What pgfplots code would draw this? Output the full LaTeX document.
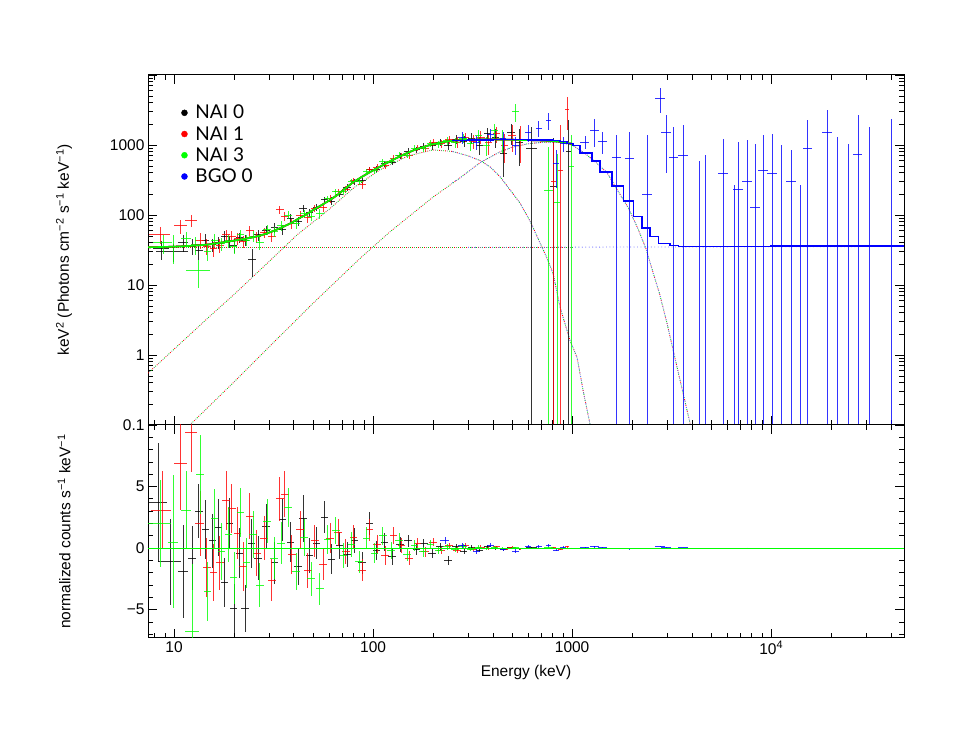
\documentclass[border=0pt]{standalone}
\usepackage{fontspec}
\setmainfont{Liberation Sans}
\newfontfamily\legfont{Lato}
\usepackage{pgfplots}
\pgfplotsset{compat=1.18}
\usepackage{pgfplotstable}

% model components (keV, keV^2 ph cm^-2 s^-1 keV^-1)
\pgfplotstableread{
E F
7.4 0.55
10 1.21
15 3.5
20 7.3
30 21.6
41.5 52
60 120
80 245
108 440
150 700
200 850
250 810
300 700
345 600
387 487
435 351
488 228
548 147
616 81
690 40
749 24
803 14.5
870 4.8
977 1.6
1059 0.92
1136 0.31
1232 0.1
1300 0.05
}\compA
\pgfplotstableread{
E F
12 0.1
20 0.41
30 1.3
50 5.5
86 24
122 58
200 180
270 330
345 560
435 800
500 930
600 1040
700 1090
850 1100
1000 1000
1160 760
1320 560
1500 400
1690 226
1920 125
2135 65
2350 33
2552 15
2750 7.5
3001 2.8
3370 0.66
3911 0.107
4100 0.05
}\compB
\pgfplotstableread{
E F
7.4 34
1000 34
}\compC
\pgfplotstableread{
E F
250 810
300 700
345 600
387 487
435 351
488 228
548 147
616 81
690 40
749 24
803 14.5
870 4.8
977 1.6
1059 0.92
1136 0.31
1232 0.1
1300 0.05
}\compAb
\pgfplotstableread{
E F
250 290
270 330
345 560
435 800
500 930
600 1040
700 1090
850 1100
1000 1000
1160 760
1320 560
1500 400
1690 226
1920 125
2135 65
2350 33
2552 15
2750 7.5
3001 2.8
3370 0.66
3911 0.107
4100 0.05
}\compBb
\pgfplotstableread{
E F
300 34.5
46500 35.5
}\compCb
\pgfplotstableread{
E F
7.4 34.6
9 35
10.5 35.5
12 36.2
13.5 37
15 38
16.5 39.5
18 41
20 43
22 45
24 47
26.5 50
29 54
32 60
35 67
38.5 76
42 88
46 101
50 118
55 138
60 160
66 192
72 235
79 290
87 345
95 400
104 460
114 530
125 610
137 690
150 780
165 870
180 940
198 1020
217 1080
238 1130
261 1160
286 1180
313 1190
343 1200
376 1200
412 1200
452 1195
495 1190
542 1180
627 1170
700 1160
806 1140
880 1110
958 1060
1000 1040
}\modnai
\pgfplotstableread{
E F
250 1160
300 1185
400 1200
500 1190
600 1180
700 1170
800 1150
870 1130
944 1044
1012 990
1097 770
1256 587
1383 414
1582 260
1810 159
2032 95
2238 65
2466 49
2715 39
3104 36.7
3420 35.5
5550 35.6
10000 35.8
20000 36
46500 36.2
}\modbgo

\tikzset{
  dotA/.style={line width=0.85pt, dash pattern=on 0.85pt off 5.15pt},
}
\pgfplotsset{
  dat/.style={only marks, mark=*, mark options={draw opacity=0, fill opacity=0}, forget plot,
    error bars/.cd, x dir=both, x explicit, y dir=both, y explicit, error mark=none,
    error bar style={line width=0.8pt, opacity=0.8}},
}

\begin{document}
\begin{tikzpicture}
\path[use as bounding box] (0pt,0pt) rectangle (971pt,746pt);

\begin{axis}[at={(148pt,321pt)}, anchor=south west,
  scale only axis, width=756pt, height=350pt,
  xmode=log, ymode=log, xmin=7.4, xmax=46500, ymin=0.1, ymax=10000,
  axis line style={line width=1pt}, every tick/.style={black, line width=0.8pt},
  major tick length=9pt, minor tick length=5pt, tick align=inside,
  xtick={10,100,1000,10000},
  minor xtick={8,9,20,30,40,50,60,70,80,90,200,300,400,500,600,700,800,900,2000,3000,4000,5000,6000,7000,8000,9000,20000,30000,40000},
  xticklabels={},
  ytick={0.1,1,10,100,1000,10000}, yticklabels={0.1,1,10,100,1000,},
  minor ytick={0.2,0.3,0.4,0.5,0.6,0.7,0.8,0.9,2,3,4,5,6,7,8,9,20,30,40,50,60,70,80,90,200,300,400,500,600,700,800,900,2000,3000,4000,5000,6000,7000,8000,9000},
  tick label style={font=\fontsize{15.5}{18}\selectfont},
  every axis y label/.style={at={(axis description cs:-0.111,0.5)}, rotate=90, anchor=center, font=\fontsize{15.5}{18}\selectfont},
  ylabel={keV\textsuperscript{2} (Photons cm\textsuperscript{−2} s\textsuperscript{−1} keV\textsuperscript{−1})},
  legend style={at={(0.044,0.92)}, anchor=north west, draw=none, fill=none,
    font=\legfont\fontsize{19}{22}\selectfont, row sep=2pt, inner sep=0pt},
  legend cell align=left]

% dotted model components
\addplot[forget plot, red, dotA, dash phase=0pt] table[x=E,y=F]{\compA};
\addplot[forget plot, green!80!black, dotA, dash phase=2pt] table[x=E,y=F]{\compA};
\addplot[forget plot, black!50, dotA, dash phase=4pt] table[x=E,y=F]{\compA};
\addplot[forget plot, red, dotA, dash phase=0pt] table[x=E,y=F]{\compB};
\addplot[forget plot, green!80!black, dotA, dash phase=2pt] table[x=E,y=F]{\compB};
\addplot[forget plot, black!50, dotA, dash phase=4pt] table[x=E,y=F]{\compB};
\addplot[forget plot, red, dotA, dash phase=0pt] table[x=E,y=F]{\compC};
\addplot[forget plot, green!80!black, dotA, dash phase=2pt] table[x=E,y=F]{\compC};
\addplot[forget plot, black!50, dotA, dash phase=4pt] table[x=E,y=F]{\compC};
\addplot[forget plot, blue!55, dotA, dash pattern=on 0.85pt off 2.6pt] table[x=E,y=F]{\compAb};
\addplot[forget plot, blue!55, dotA, dash pattern=on 0.85pt off 2.6pt] table[x=E,y=F]{\compBb};
\addplot[forget plot, blue!55, dotA, dash pattern=on 0.85pt off 2.6pt] table[x=E,y=F]{\compCb};

% NAI 0
\addplot[black, dat] table[x=E,y=F,x error=ex,y error=ey]{
E ex F ey
8.6 0.8 33 10
9.9 1.8 30 9
11.1 0.6 41 11
12.3 0.6 36 9
13.3 0.6 31 8
14.4 0.6 44 9
15.6 0.7 38 8
16.8 0.7 41 8
17.9 0.7 50 9
19 0.8 42 8
20 0.8 37 8
21.3 0.9 48 8
22.7 1 44 8
24.7 1.1 23 10
26.5 1.2 52 9
29 1.3 60 9
32 1.4 66 10
35 1.5 62 10
38.5 1.7 90 12
42 1.8 82 12
44.5 1.9 125 16
48 2 108 14
52 2.2 130 15
57 2.4 165 18
62 2.6 158 20
68 2.9 200 22
74 3.1 248 25
81 3.4 300 28
88 3.7 310 32
96 4.1 450 40
104 4.5 455 45
114 5 540 50
125 5.5 570 60
137 6 700 70
150 6.5 820 80
165 7 860 90
180 8 960 100
198 9 980 120
217 9.5 1100 130
238 10 1000 150
261 11 1200 170
286 12 1130 200
313 13 1250 230
343 14 1000 280
376 16 1450 320
412 18 1300 380
452 20 750 400
495 22 1500 500
542 24 1100 600
};
\addplot[black, dat] table[x=E,y=F,x error=ex,y error plus=ep,y error minus=em]{
E ex F ep em
627 40 900 900 899.99
806 30 254 1000 253.99
958 30 800 1500 799.99
};
% NAI 1
\addplot[red, dat] table[x=E,y=F,x error=ex,y error=ey]{
E ex F ey
8.5 1.0 53 15
10.8 0.8 70 16
12.2 0.8 84 17
13.5 0.7 44 11
14.6 0.7 36 9
15.8 0.7 33 8
17 0.8 37 8
18.3 0.8 52 9
19.5 0.9 50 9
20.8 0.9 46 9
22.3 1 42 8
24 1.1 60 10
26 1.2 49 9
28.3 1.3 56 9
31 1.4 50 9
34 1.5 120 16
36 1.6 95 14
39 1.8 75 12
43 2 100 13
47 2.1 92 14
51 2.3 125 16
56 2.5 130 18
61 2.7 170 20
67 3 215 23
73 3.2 230 26
80 3.5 310 30
88 3.8 270 35
96 4.2 450 42
105 4.6 480 48
115 5 510 55
127 5.5 650 60
139 6 700 70
152 6.5 720 80
167 7.2 900 90
183 8 900 100
200 9 1100 120
220 9.5 1040 130
241 10 1200 150
264 11 1100 180
290 12 1300 200
318 13 1120 250
348 15 1300 280
380 16 1080 350
418 18 1450 380
458 20 1000 450
500 22 1350 550
550 24 1200 650
943 22 3240 1600
};
\addplot[red, dat] table[x=E,y=F,x error=ex,y error plus=ep,y error minus=em]{
E ex F ep em
806 25 298 900 297.99
877 25 430 1500 429.99
};
% NAI 3
\addplot[green, dat] table[x=E,y=F,x error=ex,y error=ey]{
E ex F ey
8.8 1.0 40 12
9.9 0.6 36 16
11.5 0.6 47 11
12.8 0.7 38 11
13.3 1.8 16 7
14.7 0.6 30 8
16 0.7 44 9
17.3 0.7 39 8
18.8 0.8 43 9
20 0.8 36 8
21.5 0.9 52 9
23.2 1 44 8
25 1.1 50 9
27 1.2 40 8
29.3 1.3 62 10
31.8 1.4 58 10
34.5 1.5 70 11
37.5 1.7 100 13
41 1.9 75 12
45 2 105 14
49 2.2 95 14
54 2.4 105 16
59 2.6 170 19
65 2.9 215 21
71 3.1 220 25
78 3.4 300 28
85 3.7 300 32
93 4 420 38
102 4.4 430 44
112 4.9 580 50
123 5.4 590 56
135 5.9 720 65
148 6.4 720 75
162 7 900 85
178 7.8 880 95
195 8.5 1060 110
214 9.3 1030 125
235 10 1150 140
258 11 1080 160
283 12 1250 190
310 13 1050 220
340 14 1350 270
372 16 1000 300
408 17 1600 380
447 19 1200 420
520 21 3000 900
};
\addplot[green, dat] table[x=E,y=F,x error=ex,y error plus=ep,y error minus=em]{
E ex F ep em
760 40 222 700 221.99
840 25 150 600 149.99
996 30 500 900 499.99
};

% NaI folded model
\addplot[forget plot, black, line width=1.6pt] table[x=E,y=F]{\modnai};
\addplot[forget plot, red, line width=1.6pt] table[x=E,y=F]{\modnai};
\addplot[forget plot, green, line width=1.6pt] table[x=E,y=F]{\modnai};

% BGO 0
\addplot[blue, dat] table[x=E,y=F,x error=ex,y error=ey]{
E ex F ey
280 12 1300 250
330 14 1100 250
390 16 1400 300
450 18 1250 300
520 20 1000 280
600 22 1500 400
680 25 1740 450
760 25 2260 600
830 28 540 300
900 30 1050 250
1160 60 1100 230
1300 70 1630 700
1420 75 1140 400
2770 150 4640 1800
2970 160 1530 1130
};
\addplot[blue, dat] table[x=E,y=F,x error=ex,y error plus=ep,y error minus=em]{
E ex F ep em
1670 90 675 715 674.99
1940 100 650 880 649.99
2380 130 195 1195 194.99
3220 170 675 1125 674.99
3610 190 720 1200 719.99
4350 240 0.05 590 0.04
4650 250 0.05 720 0.04
5740 310 390 830 389.99
6500 350 0.05 270 0.04
6830 370 230 870 229.99
7570 410 300 880 299.99
8300 450 128 900 127.99
9120 500 428 960 427.99
10100 550 390 1040 389.99
11300 600 0.05 1000 0.04
12600 680 300 550 299.99
14000 750 0.05 270 0.04
15200 820 880 1380 879.99
19100 1000 1530 1610 1529.99
21500 1150 0.05 1300 0.04
24300 1300 0.05 1030 0.04
27300 1450 745 1915 744.99
31200 1650 0.05 1800 0.04
40000 2000 0.05 2340 0.04
};
\addplot[forget plot, blue, line width=1.5pt, const plot mark left] table[x=E,y=F]{\modbgo};

\addlegendimage{only marks, mark=*, mark size=3pt, black, mark options={fill=black, draw=black}}
\addlegendentry{\hspace{6pt}NAI 0}
\addlegendimage{only marks, mark=*, mark size=3pt, red, mark options={fill=red, draw=red}}
\addlegendentry{\hspace{6pt}NAI 1}
\addlegendimage{only marks, mark=*, mark size=3pt, green, mark options={fill=green, draw=green}}
\addlegendentry{\hspace{6pt}NAI 3}
\addlegendimage{only marks, mark=*, mark size=3pt, blue, mark options={fill=blue, draw=blue}}
\addlegendentry{\hspace{6pt}BGO 0}
\end{axis}

\begin{axis}[at={(148pt,108pt)}, anchor=south west,
  scale only axis, width=756pt, height=213pt,
  xmode=log, xmin=7.4, xmax=46500, ymin=-7.3, ymax=10,
  axis line style={line width=1pt}, every tick/.style={black, line width=0.8pt},
  major tick length=9pt, minor tick length=5pt, tick align=inside,
  xtick={10,100,1000,10000},
  minor xtick={8,9,20,30,40,50,60,70,80,90,200,300,400,500,600,700,800,900,2000,3000,4000,5000,6000,7000,8000,9000,20000,30000,40000},
  xticklabels={10,100,1000,10\textsuperscript{4}},
  ytick={-5,0,5}, yticklabels={−5,0,5},
  minor ytick={-7,-6,-4,-3,-2,-1,1,2,3,4,6,7,8,9},
  tick label style={font=\fontsize{15.5}{18}\selectfont},
  every axis x label/.style={at={(axis description cs:0.5,0)}, anchor=north, yshift=-24pt, font=\fontsize{15.5}{18}\selectfont},
  every axis y label/.style={at={(axis description cs:-0.111,0.5)}, rotate=90, anchor=center, font=\fontsize{15.5}{18}\selectfont},
  xlabel={Energy (keV)},
  ylabel={normalized counts s\textsuperscript{−1} keV\textsuperscript{−1}}]

% NAI 0 residuals
\addplot[black, dat] table[x=E,y=R,x error=ex,y error=er]{
E ex R er
8.3 0.9 3.7 4.8
9.6 1.3 -1.1 3.5
11.1 0.6 -1.9 3.8
12.3 0.6 -0.8 2.6
13.3 0.6 3.0 2.2
14.4 0.6 1.5 2.4
15.6 0.7 0.6 2.2
16.8 0.7 1.7 2.3
17.9 0.7 -2.8 2.0
19 0.8 2.0 2.1
20 0.8 -4.9 2.0
21.3 0.9 -0.4 2.0
22.7 1 -4.9 1.9
24.5 1.1 0.4 2.0
26.5 1.2 -0.8 1.8
29 1.3 1.8 1.8
32 1.4 -1.2 1.7
35 1.5 2.3 1.7
38.5 1.7 0.5 1.6
42 1.8 -1.5 1.5
44.5 1.9 2.4 1.9
48 2 -0.6 1.4
52 2.2 0.4 1.3
57 2.4 2.5 1.3
62 2.6 -0.9 1.2
68 2.9 0.2 1.1
74 3.1 -0.5 1.0
81 3.4 0.6 1.0
88 3.7 -1.2 0.9
96 4.1 2.0 0.9
104 4.5 -0.2 0.8
114 5 0.5 0.75
125 5.5 -0.7 0.7
137 6 0.3 0.6
150 6.5 0.6 0.5
165 7 -0.1 0.45
180 8 0.35 0.4
198 9 -0.45 0.35
217 9.5 0.1 0.3
238 10 -1.0 0.4
261 11 0.15 0.22
286 12 -0.25 0.2
313 13 0.05 0.18
343 14 -0.15 0.15
376 16 0.1 0.13
412 18 -0.05 0.11
452 20 -0.1 0.1
495 22 0.05 0.08
542 24 -0.05 0.07
627 40 0.02 0.06
806 30 -0.02 0.05
958 30 0.0 0.04
};
% NAI 1 residuals
\addplot[red, dat] table[x=E,y=R,x error=ex,y error=er]{
E ex R er
8.7 1.0 3.1 3.2
10.8 0.8 6.9 3.8
12.2 0.8 9.4 3.2
13.5 0.7 2.0 2.6
14.6 0.7 -1.6 2.4
15.8 0.7 -2.0 2.3
17 0.8 -1.2 2.2
18.3 0.8 3.9 2.4
19.5 0.9 3.2 2.0
20.8 0.9 1.2 2.1
22.3 1 -1.5 2.0
24 1.1 2.6 1.9
26 1.2 -0.4 1.9
28.3 1.3 0.8 1.8
31 1.4 -2.6 1.7
34 1.5 4.0 1.8
36 1.6 4.4 1.9
39 1.8 -0.5 1.6
43 2 1.5 1.5
47 2.1 -1.8 1.4
51 2.3 0.6 1.3
56 2.5 -1.3 1.3
61 2.7 0.8 1.2
67 3 1.3 1.1
73 3.2 -0.3 1.0
80 3.5 0.9 1.0
88 3.8 -1.8 0.9
96 4.2 1.5 0.9
105 4.6 0.3 0.8
115 5 -0.6 0.75
127 5.5 1.0 0.7
139 6 0.2 0.6
152 6.5 -0.8 0.55
167 7.2 0.4 0.45
183 8 -0.3 0.4
200 9 0.5 0.35
220 9.5 -0.2 0.3
241 10 0.2 0.25
264 11 -0.15 0.22
290 12 0.2 0.2
318 13 -0.1 0.17
348 15 0.08 0.15
380 16 -0.06 0.13
418 18 0.1 0.11
458 20 -0.08 0.1
500 22 0.05 0.09
550 24 -0.04 0.07
806 25 0.02 0.05
877 25 -0.1 0.06
943 25 0.1 0.05
};
% NAI 3 residuals
\addplot[green, dat] table[x=E,y=R,x error=ex,y error=er]{
E ex R er
8.5 1.2 2.0 3.5
9.9 0.6 0.5 5.4
11.5 0.6 3.1 3.2
12.4 1.0 -6.8 5.5
13.5 0.6 6.0 3.2
14.7 0.6 -3.5 2.4
16 0.7 2.4 2.4
17.3 0.7 -0.3 2.3
18.8 0.8 1.1 2.2
20 0.8 -2.4 2.1
21.5 0.9 2.9 2.0
23.2 1 -1.2 2.0
25 1.1 1.1 1.9
27 1.2 -3.0 1.8
29.3 1.3 2.2 1.8
31.8 1.4 -0.8 1.7
34.5 1.5 0.4 1.7
37.5 1.7 3.3 1.6
41 1.9 -1.9 1.5
45 2 0.9 1.5
49 2.2 -2.5 1.4
54 2.4 -3.3 1.3
59 2.6 0.7 1.2
65 2.9 1.4 1.1
71 3.1 -0.6 1.0
78 3.4 0.3 1.0
85 3.7 -1.1 0.9
93 4 0.8 0.9
102 4.4 -0.4 0.8
112 4.9 1.0 0.75
123 5.4 -0.2 0.7
135 5.9 0.6 0.6
148 6.4 -0.5 0.55
162 7 0.2 0.45
178 7.8 -0.3 0.4
195 8.5 0.3 0.35
214 9.3 -0.2 0.3
235 10 0.1 0.25
258 11 -0.1 0.22
283 12 0.15 0.2
310 13 -0.08 0.17
340 14 0.08 0.15
372 16 -0.05 0.13
408 17 0.06 0.11
447 19 -0.04 0.1
520 21 0.05 0.08
760 40 0.02 0.05
840 25 -0.02 0.05
996 30 0.01 0.04
};
% BGO 0 residuals
\addplot[blue, dat] table[x=E,y=R,x error=ex,y error=er]{
E ex R er
230 12 0.6 0.3
280 12 0.2 0.25
330 14 -0.3 0.2
390 16 0.25 0.18
450 18 -0.1 0.15
520 20 -0.25 0.14
600 22 0.1 0.12
680 25 0.15 0.12
760 25 0.2 0.12
830 28 -0.15 0.1
900 30 0.05 0.1
1160 60 0.05 0.08
1300 70 0.1 0.07
1420 75 0.05 0.06
1670 90 0.0 0.05
1940 100 -0.05 0.05
2380 130 0.0 0.04
2770 150 0.15 0.04
2970 160 0.05 0.04
3220 170 0 0.03
3610 190 0.02 0.03
4350 240 -0.02 0.02
5740 310 0 0.02
7570 410 0.01 0.02
10100 550 0 0.02
15200 820 0 0.01
27300 1450 0 0.01
40000 2000 0 0.01
};
\addplot[forget plot, green, line width=1.2pt] coordinates {(7.4,0) (46500,0)};
\end{axis}
\end{tikzpicture}
\end{document}
